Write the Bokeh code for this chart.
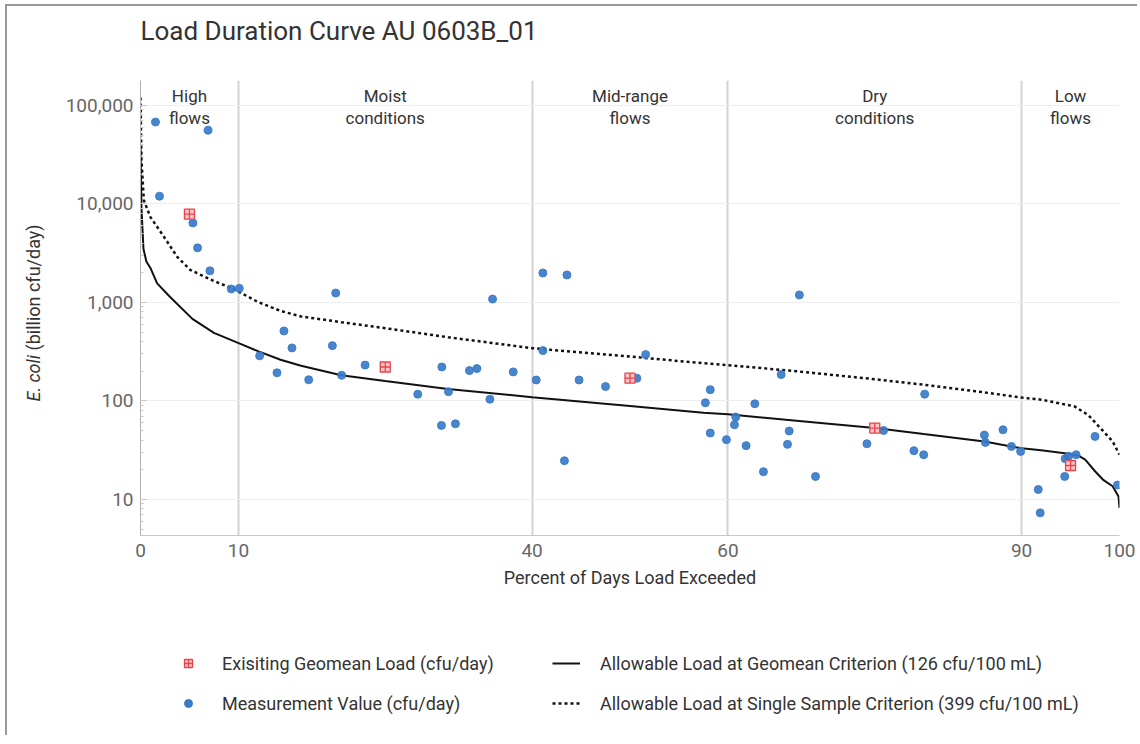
import math
from bokeh.plotting import figure
from bokeh.layouts import column, row
from bokeh.models import (FixedTicker, NumeralTickFormatter, Legend, LegendItem, LogTicker,
                          Range1d)
from bokeh.core.properties import value
from bokeh.embed import file_html
from bokeh.resources import INLINE

# ---------------- data ----------------
title_text = "Load Duration Curve AU 0603B_01"
x_label = "Percent of Days Load Exceeded"
y_label_italic = "E. coli"
y_label_rest = "(billion cfu/day)"
x_ticks = [0, 10, 40, 60, 90, 100]
zone_bounds = [10, 40, 60, 90, 100]
zone_mid = [5, 25, 50, 75, 95]
zone_line1 = ["High", "Moist", "Mid-range", "Dry", "Low"]
zone_line2 = ["flows", "conditions", "flows", "conditions", "flows"]

meas_pct = [1.53, 1.94, 5.35, 5.83, 6.9, 7.09, 9.27, 10.09, 12.17, 13.94, 14.65, 15.47,
            17.18, 19.6, 19.94, 20.55, 22.94, 28.32, 30.74, 30.78, 31.46, 32.17, 33.6,
            34.36, 35.69, 35.96, 38.07, 40.42, 41.1, 41.1, 43.3, 43.56, 44.8, 47.5, 50.7,
            51.6, 57.7, 58.2, 58.2, 59.85, 60.67, 60.8, 61.86, 62.75, 63.63, 65.44, 66.09,
            66.26, 67.3, 68.95, 74.2, 75.9, 79.0, 80.0, 80.1, 86.2, 86.3, 88.1, 88.96, 89.9,
            91.7, 91.9, 94.4, 94.45, 94.8, 95.57, 97.5, 99.8]
meas_val = [67800, 11970, 6410, 3580, 55900, 2090, 1370, 1390, 287, 193, 513, 345,
            164, 364, 1245, 182, 231, 117, 56.4, 221, 124, 58.6, 203,
            213, 104, 1080, 197, 163, 324, 1990, 24.7, 1900, 163, 140, 170,
            295, 95.7, 130, 47.2, 40.4, 57.3, 68.5, 35.1, 93.5, 19.1, 185, 36.2,
            49.5, 1190, 17.1, 36.7, 50.1, 31.2, 28.4, 117, 45, 37.9, 50.9, 34.5, 30.7,
            12.6, 7.3, 17.1, 25.9, 27.4, 28.4, 43.6, 14.0]

geo_pct = [5, 25, 50, 75, 95]
geo_val = [7870, 221, 170, 53, 22.1]

gm_pct = [0, 0.1, 0.3, 0.6, 1.0, 1.7, 3.0, 5.3, 7.5, 9.9, 12, 14.3, 16.4, 20.5, 25, 31.4,
          40, 50, 57.5, 60, 67, 75, 80, 86.2, 90, 92, 94.8, 95.8, 96.5, 97.5, 98.3, 99.3,
          99.9, 100]
gm_val = [37800, 9000, 3500, 2600, 2250, 1560, 1140, 680, 490, 390, 320, 262, 227, 182,
          159, 132, 109, 89, 76, 73, 63, 53, 46, 38.8, 33, 31.5, 29.1, 27.8, 25.3, 19.3,
          15.9, 13.6, 10.7, 8.2]

ss_pct = [0, 0.1, 0.34, 1.0, 2.4, 3.75, 5.1, 7.5, 9.5, 12, 14.3, 16.4, 20.5, 25, 31.4,
          40, 50, 57.5, 60, 67, 75, 80, 86.2, 90, 92, 95.4, 96.8, 98.2, 99.3, 100]
ss_val = [120000, 28000, 10900, 7380, 4630, 2900, 2130, 1650, 1370, 1010, 820, 720, 630,
          547, 443, 343, 282, 241, 231, 200, 166, 146, 122, 108, 103, 88, 72, 51, 38.8,
          28.4]

legend_labels = ["Exisiting Geomean Load (cfu/day)",
                 "Measurement Value (cfu/day)",
                 "Allowable Load at Geomean Criterion (126 cfu/100 mL)",
                 "Allowable Load at Single Sample Criterion (399 cfu/100 mL)"]

FONT = "Roboto"
TXT = "#333333"
BLUE = "#3a7bc8"
RED = "#e8434b"
PINK = "#f9c7c9"

# ---------------- geometry (page pixels) ----------------
OX, OY = 7, 6                      # content origin after margin + border
W = 1130                           # content width
LW = 50                            # y-label strip width
TOP_H = 54                         # title strip height
ROW_TOP = OY + TOP_H               # 60
FRAME_T, FRAME_B = 80, 535
FRAME_L, FRAME_R = 140, 1119
MAIN_H = 535
BOT_H = 140
Y_MIN, Y_MAX = 4.3, 179000
TITLE_MID = 30


def val_at(py):
    lo, hi = math.log10(Y_MIN), math.log10(Y_MAX)
    return 10 ** (hi - (py - FRAME_T) / (FRAME_B - FRAME_T) * (hi - lo))


y_range = Range1d(Y_MIN, Y_MAX)

# ---------------- title strip ----------------
pt = figure(width=W, height=TOP_H, x_range=(0, W), y_range=(0, TOP_H),
            x_axis_location=None, y_axis_location=None, output_backend="svg",
            toolbar_location=None, min_border=0)
pt.outline_line_color = None
pt.grid.visible = False
pt.text(x=[FRAME_L - OX], y=[ROW_TOP - TITLE_MID], text=[title_text], text_align="left",
        text_baseline="middle", text_font=value(FONT), text_font_size="26px",
        text_color=TXT)

# ---------------- main chart ----------------
p = figure(width=W - LW, height=MAIN_H, x_range=(0, 100), y_range=y_range,
           y_axis_type="log", output_backend="svg", toolbar_location=None,
           min_border_left=FRAME_L - OX - LW, min_border_right=OX + W - FRAME_R,
           min_border_top=FRAME_T - ROW_TOP,
           min_border_bottom=ROW_TOP + MAIN_H - FRAME_B)
p.background_fill_color = "white"
p.border_fill_color = "white"
p.outline_line_color = None

xa = p.xaxis[0]
xa.ticker = FixedTicker(ticks=x_ticks)
xa.axis_label = x_label
xa.axis_label_text_font = FONT
xa.axis_label_text_font_size = "18px"
xa.axis_label_text_font_style = "normal"
xa.axis_label_text_color = TXT
xa.axis_label_standoff = 7
xa.major_label_text_font = FONT
xa.major_label_text_font_size = "19px"
xa.major_label_text_color = "#666666"
xa.major_label_standoff = 8
xa.major_tick_in = 0
xa.major_tick_out = 0
xa.minor_tick_in = 0
xa.minor_tick_out = 0
xa.axis_line_color = "#c8c8c8"

ya = p.yaxis[0]
ya.ticker = LogTicker(num_minor_ticks=10)
ya.formatter = NumeralTickFormatter(format="0,0")
ya.major_label_text_font = FONT
ya.major_label_text_font_size = "19px"
ya.major_label_text_color = "#666666"
ya.major_label_standoff = 7
ya.major_tick_in = 6
ya.major_tick_out = 0
ya.minor_tick_in = 3
ya.minor_tick_out = 0
ya.major_tick_line_color = "#c8c8c8"
ya.minor_tick_line_color = "#c8c8c8"
ya.axis_line_color = "#b0b0b0"

p.xgrid.ticker = FixedTicker(ticks=zone_bounds)
p.xgrid.grid_line_color = "#d2d2d2"
p.xgrid.grid_line_width = 2
p.ygrid.grid_line_color = "#eeeeee"
p.ygrid.grid_line_width = 1

p.line(gm_pct, gm_val, line_color="#111111", line_width=2)
p.line(ss_pct, ss_val, line_color="#111111", line_width=2.5, line_dash="3 3")
p.scatter(meas_pct, meas_val, size=8, fill_color=BLUE, line_color=BLUE,
          fill_alpha=0.92, line_alpha=0.92)
p.scatter(geo_pct, geo_val, marker="square_cross", size=10,
          line_color=RED, fill_color=PINK, line_width=1.3)

p.text(x=zone_mid, y=[val_at(95)] * 5, text=zone_line1, text_align="center",
       text_baseline="middle", text_font=value(FONT), text_font_size="17px",
       text_color=TXT)
p.text(x=zone_mid, y=[val_at(117)] * 5, text=zone_line2, text_align="center",
       text_baseline="middle", text_font=value(FONT), text_font_size="17px",
       text_color=TXT)

# ---------------- y-axis label strip (left) ----------------
pl = figure(width=LW, height=MAIN_H, x_range=(0, LW), y_range=y_range,
            y_axis_type="log", x_axis_location=None, y_axis_location=None,
            output_backend="svg", toolbar_location=None, min_border=0)
pl.outline_line_color = None
pl.grid.visible = False
pl.text(x=[33 - OX], y=[val_at(401)], text=[y_label_italic], angle=math.pi / 2,
        text_align="left", text_baseline="middle", text_font=value(FONT),
        text_font_size="18px", text_font_style="italic", text_color=TXT)
pl.text(x=[33 - OX], y=[val_at(350)], text=[y_label_rest], angle=math.pi / 2,
        text_align="left", text_baseline="middle", text_font=value(FONT),
        text_font_size="18px", text_color=TXT)

# ---------------- legend strip (bottom) ----------------
pb = figure(width=W, height=BOT_H, x_range=(0, W), y_range=(-BOT_H, 0),
            x_axis_location=None, y_axis_location=None, output_backend="svg",
            toolbar_location=None, min_border=0)
pb.outline_line_color = None
pb.grid.visible = False
# legend proxies: same series, all lying above this strip's visible range
l_geo = pb.scatter(geo_pct, geo_val, marker="square_cross", size=10, line_color=RED,
                   fill_color=PINK, line_width=1.3)
l_meas = pb.scatter(meas_pct, meas_val, size=8, fill_color=BLUE, line_color=BLUE)
l_gm = pb.line(gm_pct, gm_val, line_color="#111111", line_width=2)
l_ss = pb.line(ss_pct, ss_val, line_color="#111111", line_width=2.5, line_dash="3 3")

legend = Legend(items=[LegendItem(label=legend_labels[0], renderers=[l_geo]),
                       LegendItem(label=legend_labels[1], renderers=[l_meas]),
                       LegendItem(label=legend_labels[2], renderers=[l_gm]),
                       LegendItem(label=legend_labels[3], renderers=[l_ss])],
                location=(174 - OX, (OY + TOP_H + MAIN_H + BOT_H) - 723),
                orientation="vertical", nrows=2,
                glyph_width=28, glyph_height=20, label_width=330, label_height=40,
                label_standoff=20, spacing=0, padding=0, margin=0,
                border_line_color=None, background_fill_alpha=0,
                label_text_font=FONT, label_text_font_size="18px",
                label_text_color=TXT)
pb.add_layout(legend)

layout = column(pt, row(pl, p), pb, margin=(4, 0, 0, 5),
                styles={"border-left": "2px solid #9a9a9a",
                        "border-top": "2px solid #9a9a9a",
                        "border-right": "none", "border-bottom": "none"})
open("out.html", "w").write(file_html(layout, INLINE))
